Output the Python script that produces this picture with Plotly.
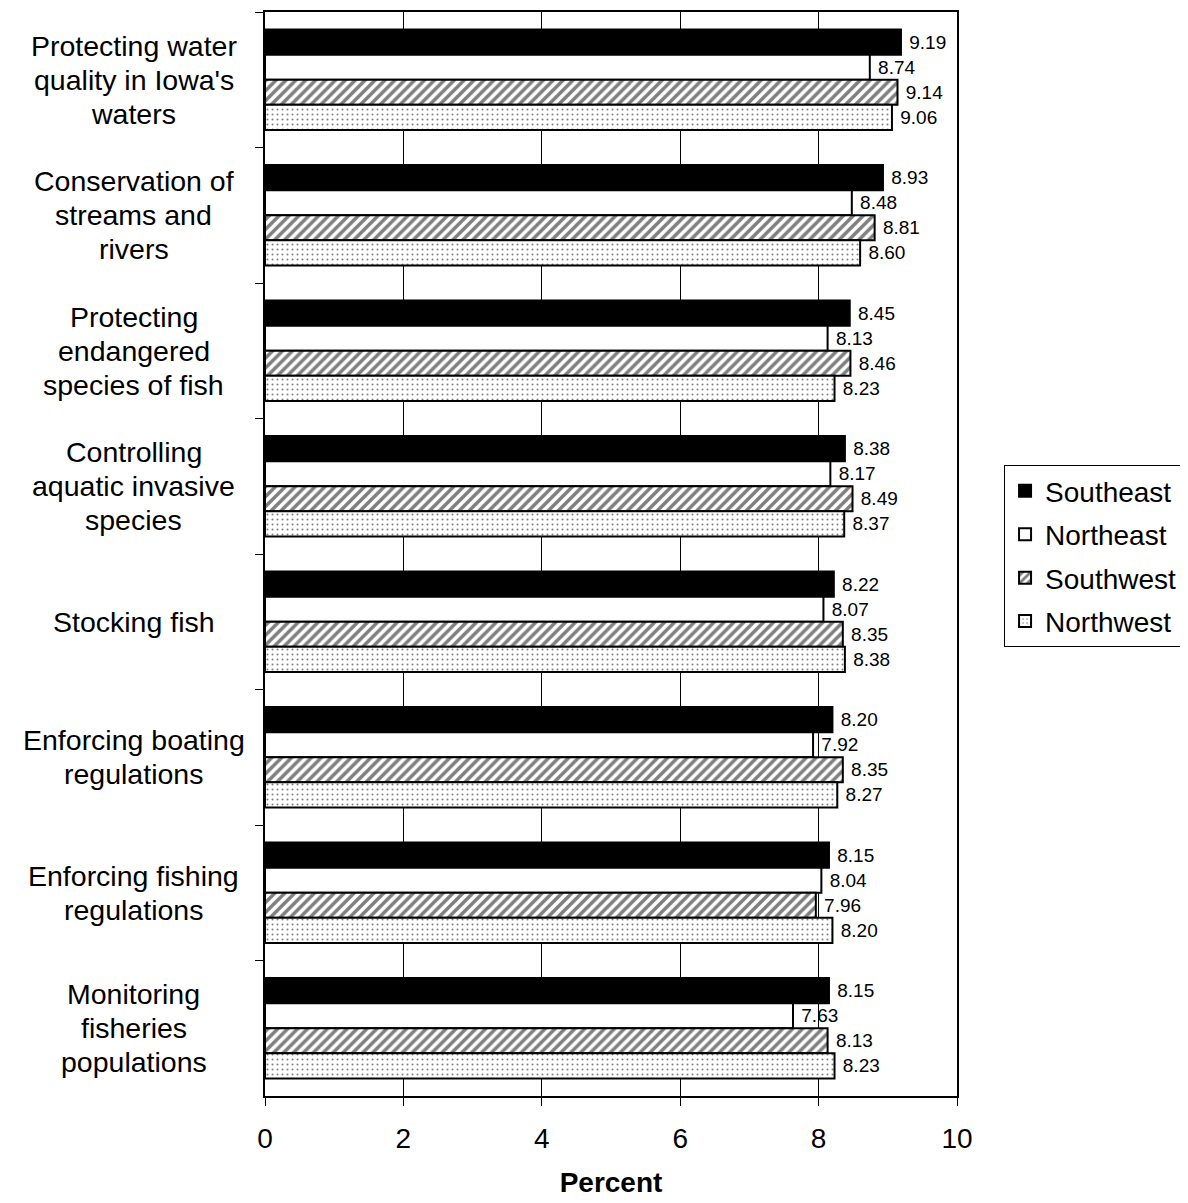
import plotly.graph_objects as go

categories = [
    "Protecting water<br>quality in Iowa's<br>waters",
    "Conservation of<br>streams and<br>rivers",
    "Protecting<br>endangered<br>species of fish",
    "Controlling<br>aquatic invasive<br>species",
    "Stocking fish",
    "Enforcing boating<br>regulations",
    "Enforcing fishing<br>regulations",
    "Monitoring<br>fisheries<br>populations",
]
southeast = [9.19, 8.93, 8.45, 8.38, 8.22, 8.20, 8.15, 8.15]
northeast = [8.74, 8.48, 8.13, 8.17, 8.07, 7.92, 8.04, 7.63]
southwest = [9.14, 8.81, 8.46, 8.49, 8.35, 8.35, 7.96, 8.13]
northwest = [9.06, 8.60, 8.23, 8.37, 8.38, 8.27, 8.20, 8.23]
x_ticks = [0, 2, 4, 6, 8, 10]

FONT = "Liberation Sans, Arial, sans-serif"

series = [
    ("Southeast", southeast, dict(color="black")),
    ("Northeast", northeast, dict(color="white")),
    ("Southwest", southwest, dict(color="white", pattern=dict(shape="/", fgcolor="black", bgcolor="white", size=7, solidity=0.5))),
    ("Northwest", northwest, dict(color="white", pattern=dict(shape=".", fgcolor="black", bgcolor="white", size=5, solidity=0.13))),
]

fig = go.Figure()
for name, vals, mk in series:
    mk = dict(mk)
    mk["line"] = dict(color="black", width=2)
    fig.add_trace(go.Bar(
        name=name, y=categories, x=vals, orientation="h",
        marker=mk, legendgroup=name,
        text=[f"\u00a0{v:.2f}" for v in vals], textposition="outside",
        textfont=dict(family=FONT, size=19, color="black"),
        constraintext="none",
        cliponaxis=False,
    ))

LINE_H = 34
for c in categories:
    lines = c.split("<br>")
    n = len(lines)
    for i, ln in enumerate(lines):
        fig.add_annotation(x=-0.19, xref="paper", y=c, yref="y", text=ln,
                           yshift=((n - 1) / 2 - i) * LINE_H,
                           showarrow=False, xanchor="center", yanchor="middle",
                           align="center", font=dict(family=FONT, size=28.5, color="black"))

fig.update_layout(
    width=1188, height=1203,
    margin=dict(l=257, r=239, t=2, b=115),
    paper_bgcolor="white", plot_bgcolor="white",
    barmode="group", bargap=0.26, bargroupgap=0,
    font=dict(family=FONT, color="black"),
    legend=dict(x=1.068, y=0.498, xanchor="left", yanchor="middle",
                bordercolor="black", borderwidth=1, bgcolor="white",
                font=dict(family=FONT, size=28), itemsizing="constant",
                tracegroupgap=4, itemwidth=30),
)
fig.update_xaxes(range=[0, 10], tickvals=x_ticks, ticks="outside", ticklen=8,
                 tickcolor="black", tickwidth=1, ticklabelstandoff=8,
                 tickfont=dict(family=FONT, size=28, color="black"),
                 showgrid=True, gridcolor="black", gridwidth=1,
                 showline=True, linecolor="black", linewidth=2, mirror=True,
                 zeroline=False,
                 title=dict(text="<b>Percent</b>", font=dict(family=FONT, size=28, color="black"), standoff=20))
fig.update_yaxes(autorange="reversed", showticklabels=False, ticks="outside",
                 tickson="boundaries", ticklen=8, tickcolor="black", tickwidth=1,
                 showline=True, linecolor="black", linewidth=2, mirror=True,
                 showgrid=False)

fig.write_html("out.html")
